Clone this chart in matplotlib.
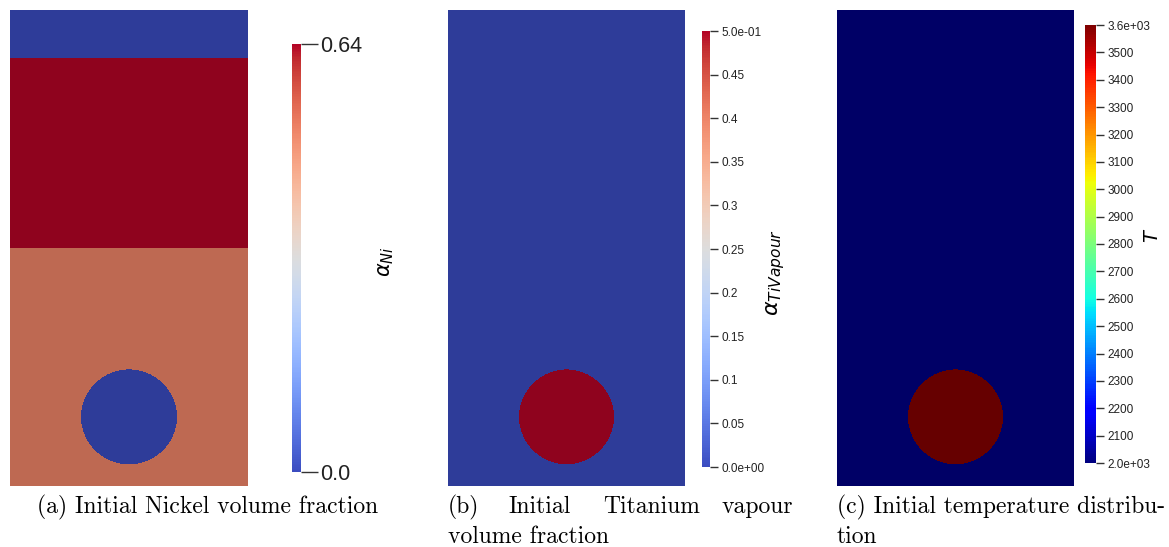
import numpy as np
import matplotlib
matplotlib.use("Agg")
import matplotlib.pyplot as plt
from matplotlib import colors, cm

W, H = 1169, 547

# Domain and initial field set-up (non-dimensional box, bubble near the bottom)
domain_size = [1.0, 2.0]
layer_tops = [1.0, 1.8, 2.0]
ni_layer_values = [0.51, 0.64, 0.0]
bubble_center = [0.5, 0.29]
bubble_radius = 0.2
ni_bubble = 0.0
ti_vapour_values = [0.0, 0.5]      # background, bubble
temp_values = [2000.0, 3600.0]     # background, bubble

# Colour bar ranges and ticks
ni_range = [0.0, 0.64]
ni_ticks = [0.0, 0.64]
ni_ticklabels = ["0.0", "0.64"]
ti_range = [0.0, 0.5]
ti_ticks = [0.0, 0.05, 0.1, 0.15, 0.2, 0.25, 0.3, 0.35, 0.4, 0.45, 0.5]
ti_ticklabels = ["0.0e+00", "0.05", "0.1", "0.15", "0.2", "0.25", "0.3",
                 "0.35", "0.4", "0.45", "5.0e-01"]
t_range = [2000, 3600]
t_ticks = list(range(2000, 3700, 100))
t_ticklabels = ["2.0e+03"] + [str(t) for t in t_ticks[1:-1]] + ["3.6e+03"]

captions = ["(a) Initial Nickel volume fraction",
            "(b) Initial Titanium vapour volume fraction",
            "(c) Initial temperature distribution"]

SHADE = 0.8   # surface lighting darkens the rendered fields a bit


def px_axes(fig, x0, y0, x1, y1):
    """Add axes from pixel box (top-left origin)."""
    return fig.add_axes([x0 / W, 1 - y1 / H, (x1 - x0) / W, (y1 - y0) / H])


def grid():
    nx, ny = 240, 480
    x = (np.arange(nx) + 0.5) / nx * domain_size[0]
    y = (np.arange(ny) + 0.5) / ny * domain_size[1]
    X, Y = np.meshgrid(x, y)
    inside = (X - bubble_center[0]) ** 2 + (Y - bubble_center[1]) ** 2 < bubble_radius ** 2
    return X, Y, inside


def draw_field(fig, box, field, cmap, vmin, vmax):
    ax = px_axes(fig, *box)
    norm = colors.Normalize(vmin, vmax)
    rgba = cmap(norm(field))
    rgba[..., :3] *= SHADE
    ax.imshow(rgba, origin="lower", extent=[0, domain_size[0], 0, domain_size[1]],
              aspect="auto", interpolation="nearest")
    ax.set_axis_off()


def draw_cbar(fig, box, cmap, vmin, vmax, ticks, labels, fsize, ticklen, label, lx, ly, lsize):
    cax = px_axes(fig, *box)
    sm = cm.ScalarMappable(norm=colors.Normalize(vmin, vmax), cmap=cmap)
    cb = fig.colorbar(sm, cax=cax)
    cb.outline.set_visible(False)
    cb.set_ticks(ticks)
    cb.set_ticklabels(labels)
    cax.tick_params(length=ticklen, width=1.0, color="#333333", labelsize=fsize, pad=2,
                    labelcolor="#222222")
    for t in cax.get_yticklabels():
        t.set_family("Liberation Sans")
    fig.text(lx / W, 1 - ly / H, label, rotation=90, ha="center", va="center",
             fontsize=lsize, color="black")


fig = plt.figure(figsize=(W / 100, H / 100), dpi=100)
plt.rcParams["mathtext.fontset"] = "dejavusans"

X, Y, inside = grid()

# (a) nickel volume fraction: layered bed with a vapour bubble
ni = np.full(X.shape, ni_layer_values[0])
ni[Y > layer_tops[0]] = ni_layer_values[1]
ni[Y > layer_tops[1]] = ni_layer_values[2]
ni[inside] = ni_bubble
draw_field(fig, (10, 10, 248, 486), ni, plt.get_cmap("coolwarm"), *ni_range)
draw_cbar(fig, (292, 44, 301, 472), plt.get_cmap("coolwarm"), *ni_range,
          ni_ticks, ni_ticklabels, 15.5, 12, r"$\alpha_{Ni}$", 386, 262, 15)

# (b) titanium vapour volume fraction
ti = np.where(inside, ti_vapour_values[1], ti_vapour_values[0])
draw_field(fig, (448, 10, 685, 486), ti, plt.get_cmap("coolwarm"), *ti_range)
draw_cbar(fig, (702, 31, 710, 467), plt.get_cmap("coolwarm"), *ti_range,
          ti_ticks, ti_ticklabels, 8.5, 6, r"$\alpha_{TiVapour}$", 776, 272, 16)

# (c) temperature
temp = np.where(inside, temp_values[1], temp_values[0])
draw_field(fig, (837, 10, 1074, 486), temp, plt.get_cmap("jet"), *t_range)
draw_cbar(fig, (1085, 25, 1096, 463), plt.get_cmap("jet"), *t_range,
          t_ticks, t_ticklabels, 8.5, 6, r"$T$", 1152, 235, 14)

# Captions (sub-figure style, justified lines)
cap = dict(family=["cmr10", "DejaVu Serif"], fontsize=17, va="center", ha="left")
fig.text(37 / W, 1 - 507 / H, captions[0], **cap)

words_b = captions[1].split()
xs_b = [448, 508, 603]
for w, x in zip(words_b[:3], xs_b):
    fig.text(x / W, 1 - 507 / H, w, **cap)
fig.text(793 / W, 1 - 507 / H, words_b[3], **{**cap, "ha": "right"})
fig.text(448 / W, 1 - 537 / H, " ".join(words_b[4:]), **cap)

fig.text(837 / W, 1 - 507 / H, captions[2][:-4] + "-", **cap)
fig.text(837 / W, 1 - 537 / H, captions[2][-4:], **cap)

fig.savefig("out.png", dpi=100)
